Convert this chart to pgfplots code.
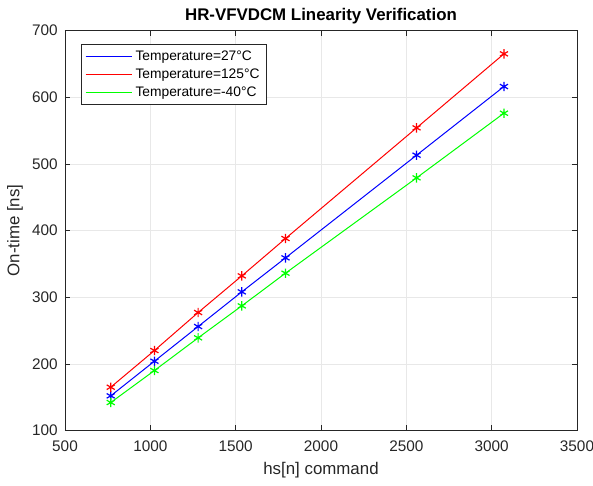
\documentclass[border=0pt]{standalone}
\usepackage{pgfplots}
\pgfplotsset{compat=1.18}
\usepackage{fontspec}
\setmainfont{Liberation Sans}
\definecolor{axgray}{RGB}{38,38,38}
\definecolor{gridgray}{RGB}{232,232,232}
\begin{document}
\begin{tikzpicture}
\useasboundingbox (-48.75pt,-40.9pt) rectangle (396pt,322.9pt);
\begin{axis}[
  at={(0,0)}, anchor=south west,
  scale only axis,
  width=384pt, height=300pt,
  xmin=500, xmax=3500, ymin=100, ymax=700,
  xtick={500,1000,...,3500}, ytick={100,200,...,700},
  scaled ticks=false,
  /pgf/number format/1000 sep={},
  /pgf/number format/assume math mode=true,
  tick label style={font=\fontsize{11.5}{13}\selectfont, text=axgray},
  xticklabel style={yshift=-4pt},
  yticklabel style={xshift=-2pt},
  tick align=inside,
  major tick length=4pt,
  tick style={axgray, line width=0.5pt},
  axis line style={axgray, line width=0.5pt},
  grid=major,
  major grid style={gridgray, line width=0.5pt},
  title={\bfseries HR-VFVDCM Linearity Verification},
  title style={font=\fontsize{12.65}{14}\selectfont, yshift=-5pt},
  xlabel={hs[n] command},
  ylabel={On-time [ns]},
  label style={font=\fontsize{12.65}{14}\selectfont, text=axgray},
  xlabel style={yshift=-1pt},
  legend style={at={(0.031,0.966)}, anchor=north west, draw=axgray, line width=0.5pt,
    font=\fontsize{10.35}{12.4}\selectfont, row sep=0.5pt, inner sep=3pt},
  legend cell align=left,
]
\addlegendimage{blue, line width=0.75pt, legend image code/.code={\draw[blue, line width=0.75pt] (0pt,0pt) -- (35pt,0pt);}}
\addlegendentry{Temperature=27°C}
\addlegendimage{red, line width=0.75pt, legend image code/.code={\draw[red, line width=0.75pt] (0pt,0pt) -- (35pt,0pt);}}
\addlegendentry{Temperature=125°C}
\addlegendimage{green, line width=0.75pt, legend image code/.code={\draw[green, line width=0.75pt] (0pt,0pt) -- (35pt,0pt);}}
\addlegendentry{Temperature=-40°C}
\addplot[blue, line width=0.75pt, mark=asterisk, mark size=3.5pt, mark options={line width=0.9pt}, forget plot] coordinates {
(768,152) (1024,204) (1280,256) (1536,308) (1792,359) (2560,513) (3072,616)};
\addplot[red, line width=0.75pt, mark=asterisk, mark size=3.5pt, mark options={line width=0.9pt}, forget plot] coordinates {
(768,165) (1024,220) (1280,277) (1536,332) (1792,388) (2560,554) (3072,665)};
\addplot[green, line width=0.75pt, mark=asterisk, mark size=3.5pt, mark options={line width=0.9pt}, forget plot] coordinates {
(768,142) (1024,190) (1280,239) (1536,287) (1792,336) (2560,479) (3072,576)};
\end{axis}
\end{tikzpicture}
\end{document}
